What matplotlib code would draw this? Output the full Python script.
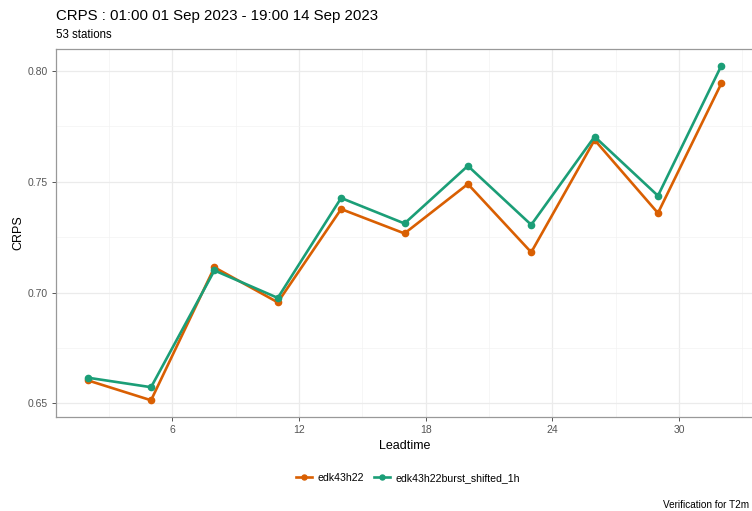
import numpy as np
import matplotlib
matplotlib.use("Agg")
from matplotlib import pyplot as plt
from matplotlib.ticker import MultipleLocator

plt.rcParams['font.family'] = ['Liberation Sans', 'DejaVu Sans']

# CRPS per leadtime for the two experiments
leadtime = [2, 5, 8, 11, 14, 17, 20, 23, 26, 29, 32]
crps_ref = [0.6604, 0.6514, 0.7114, 0.6956, 0.7377, 0.7267, 0.7490, 0.7182, 0.7689, 0.7359, 0.7944]
crps_burst = [0.6616, 0.6573, 0.7100, 0.6976, 0.7427, 0.7312, 0.7572, 0.7306, 0.7704, 0.7437, 0.8024]
names = ['edk43h22', 'edk43h22burst_shifted_1h']
colours = ['#D95F02', '#1B9E77']

title = 'CRPS : 01:00 01 Sep 2023 - 19:00 14 Sep 2023'
subtitle = '53 stations'
caption = 'Verification for T2m'

fig = plt.figure(figsize=(7.52, 5.11), dpi=100)
ax = fig.add_axes([56 / 752, 1 - 417 / 511, 697 / 752, 368 / 511])

for y, name, c in zip([crps_ref, crps_burst], names, colours):
    ax.plot(leadtime, y, color=c, lw=1.9, marker='o', ms=4.5, label=name, zorder=3)

# ggplot-like expansion of 5% on both axes
xr = max(leadtime) - min(leadtime)
ax.set_xlim(min(leadtime) - 0.05 * xr, max(leadtime) + 0.05 * xr)
allv = crps_ref + crps_burst
yr = max(allv) - min(allv)
ax.set_ylim(min(allv) - 0.05 * yr, max(allv) + 0.05 * yr)

ax.xaxis.set_major_locator(MultipleLocator(6))
ax.xaxis.set_minor_locator(MultipleLocator(3))
ax.yaxis.set_major_locator(MultipleLocator(0.05))
ax.yaxis.set_minor_locator(MultipleLocator(0.025))
ax.yaxis.set_major_formatter(matplotlib.ticker.FormatStrFormatter('%.2f'))

ax.grid(which='major', color='#EBEBEB', lw=0.9, zorder=0)
ax.grid(which='minor', color='#F3F3F3', lw=0.5, zorder=0)
ax.set_axisbelow(True)
for s in ax.spines.values():
    s.set_color('#999999')
    s.set_linewidth(0.9)
ax.tick_params(which='major', length=3, width=0.7, color='#555555', labelsize=7.5,
               labelcolor='#555555', pad=3)
ax.tick_params(which='minor', length=0)

ax.set_xlabel('Leadtime', fontsize=9, labelpad=3)
ax.set_ylabel('CRPS', fontsize=9, labelpad=2)

fig.text(56 / 752, 1 - 16 / 511, title, fontsize=10.8, va='center', ha='left')
fig.text(56 / 752, 1 - 35 / 511, subtitle, fontsize=8.3, va='center', ha='left')
fig.text(749 / 752, 1 - 505 / 511, caption, fontsize=7.2, va='center', ha='right')

fig.legend(loc='center', bbox_to_anchor=(408 / 752, 1 - 478 / 511), ncol=2, frameon=False,
           fontsize=7.6, handlelength=1.5, columnspacing=1.0, handletextpad=0.5, markerscale=0.8)

fig.savefig('out.png', dpi=100)
